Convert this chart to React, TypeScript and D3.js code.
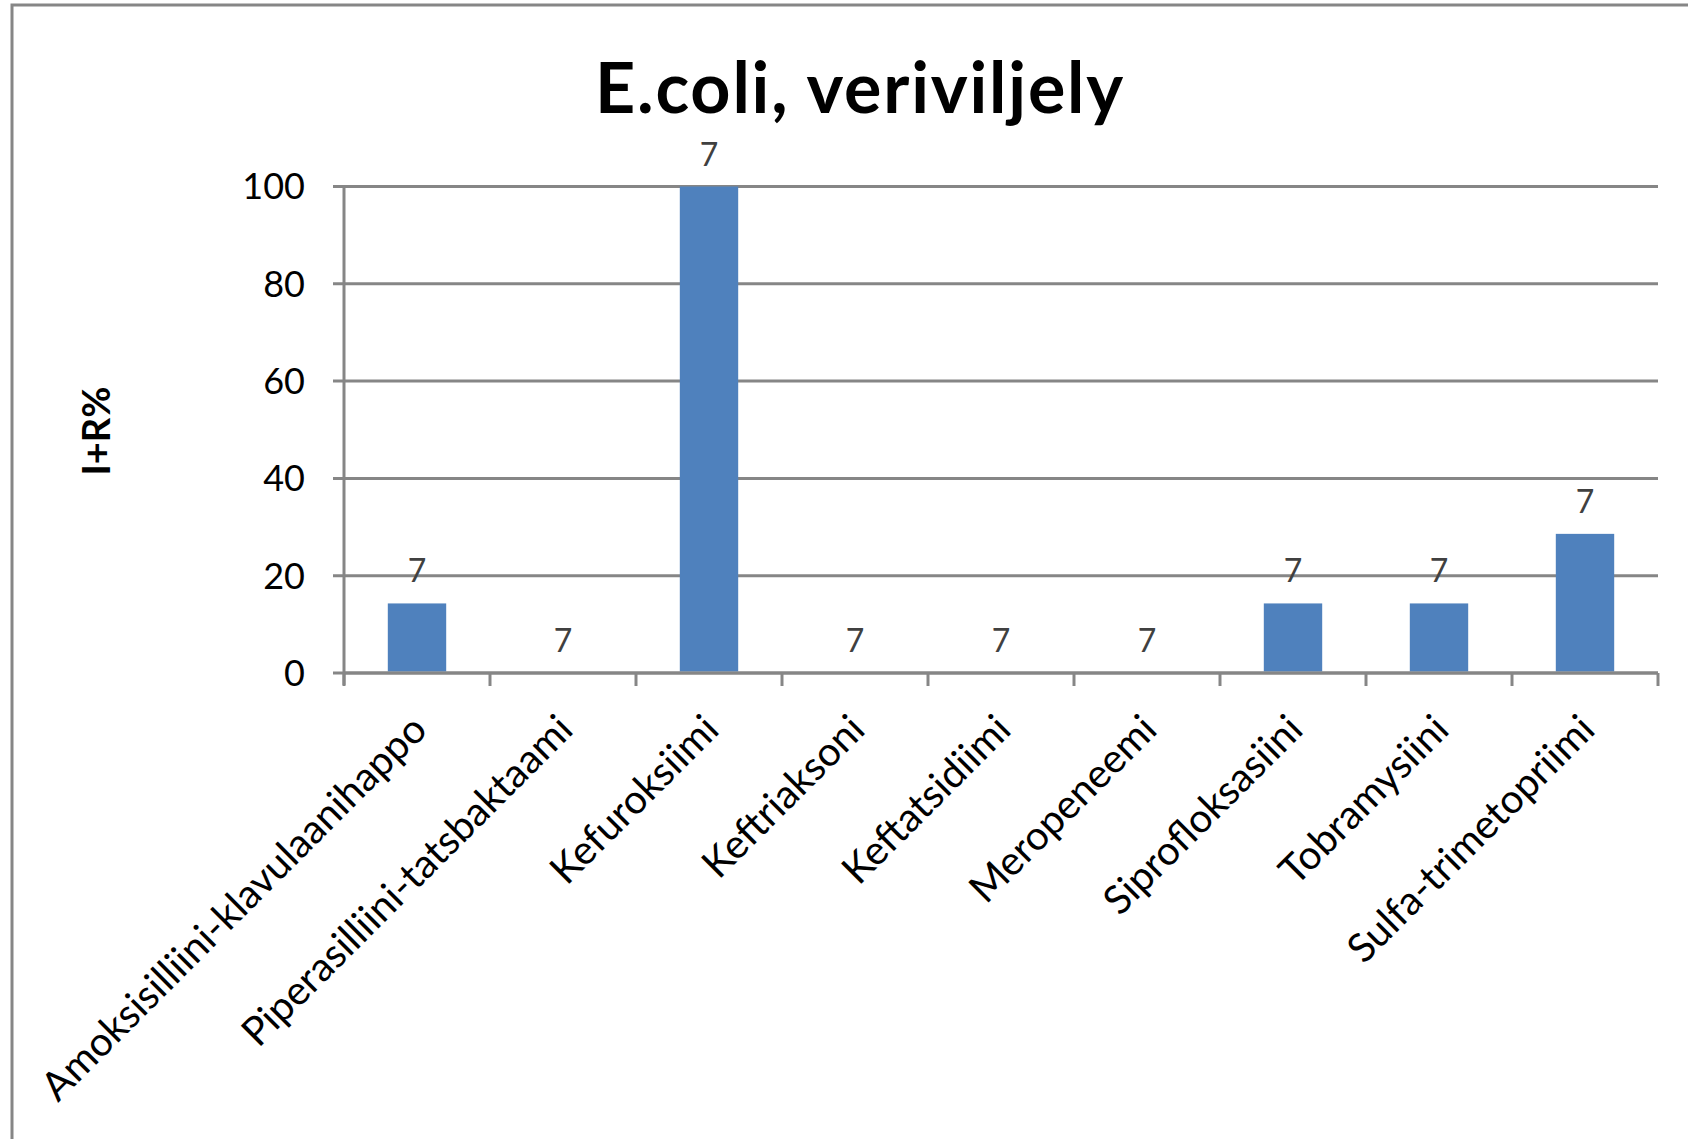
import React from "react";
import * as d3 from "d3";

const title = "E.coli, veriviljely";
const yAxisTitle = "I+R%";
const categories = [
  "Amoksisilliini-klavulaanihappo",
  "Piperasilliini-tatsbaktaami",
  "Kefuroksiimi",
  "Keftriaksoni",
  "Keftatsidiimi",
  "Meropeneemi",
  "Siprofloksasiini",
  "Tobramysiini",
  "Sulfa-trimetopriimi",
];
const values = [14.3, 0, 100, 0, 0, 0, 14.3, 14.3, 28.6];
const counts = [7, 7, 7, 7, 7, 7, 7, 7, 7];
const yTicks = [0, 20, 40, 60, 80, 100];

const W = 1688;
const H = 1139;
const left = 344;
const right = 1658;
const top = 186.5;
const bottom = 673;
const GRID = "#868686";
const FONT = "Lato, 'Open Sans', sans-serif";

export default function App() {
  const x = d3
    .scaleBand<string>()
    .domain(categories)
    .range([left, right])
    .paddingInner(0.6)
    .paddingOuter(0.3);
  const y = d3.scaleLinear().domain([0, 100]).range([bottom, top]);
  const step = x.step();
  const bounds = d3.range(categories.length + 1).map((i) => left + i * step);

  return (
    <svg
      width={W}
      height={H}
      style={{ position: "absolute", left: 0, top: 0, background: "#fff" }}
      fontFamily={FONT}
    >
      <rect x={0} y={0} width={W} height={H} fill="#fff" />
      <rect x={12} y={5} width={W + 50} height={H + 50} fill="#fff" stroke={GRID} strokeWidth={3} />
      <text
        x={860}
        y={113}
        textAnchor="middle"
        fontSize={70}
        fontWeight={700}
        letterSpacing={1.8}
        fill="#000"
      >
        {title}
      </text>
      {yTicks.map((t) => (
        <g key={t}>
          <line x1={left - 11} x2={right} y1={y(t)} y2={y(t)} stroke={GRID} strokeWidth={3} />
          <text x={305} y={y(t)} dy="0.36em" textAnchor="end" fontSize={36} fill="#000">
            {t}
          </text>
        </g>
      ))}
      <line x1={left} x2={left} y1={top} y2={bottom + 12} stroke={GRID} strokeWidth={3} />
      {bounds.map((b, i) => (
        <line key={i} x1={b} x2={b} y1={bottom} y2={bottom + 13} stroke={GRID} strokeWidth={3} />
      ))}
      {categories.map((c, i) => (
        <rect
          key={c}
          x={x(c)}
          y={y(values[i])}
          width={x.bandwidth()}
          height={y(0) - y(values[i]) - 1.5}
          fill="#4F81BD"
        />
      ))}
      <line x1={left} x2={right} y1={bottom} y2={bottom} stroke={GRID} strokeWidth={3} />
      {categories.map((c, i) => (
        <text
          key={"l" + c}
          x={(x(c) as number) + x.bandwidth() / 2}
          y={y(values[i]) - 21}
          textAnchor="middle"
          fontSize={32}
          fill="#404040"
        >
          {counts[i]}
        </text>
      ))}
      {categories.map((c) => {
        const cx = (x(c) as number) + x.bandwidth() / 2;
        return (
          <text
            key={"c" + c}
            transform={`translate(${cx + 12},${bottom + 59}) rotate(-45)`}
            textAnchor="end"
            fontSize={40}
            fill="#000"
          >
            {c}
          </text>
        );
      })}
      <text
        transform={`translate(110,431) rotate(-90)`}
        textAnchor="middle"
        fontSize={38}
        fontWeight={700}
        fill="#000"
      >
        {yAxisTitle}
      </text>
    </svg>
  );
}
